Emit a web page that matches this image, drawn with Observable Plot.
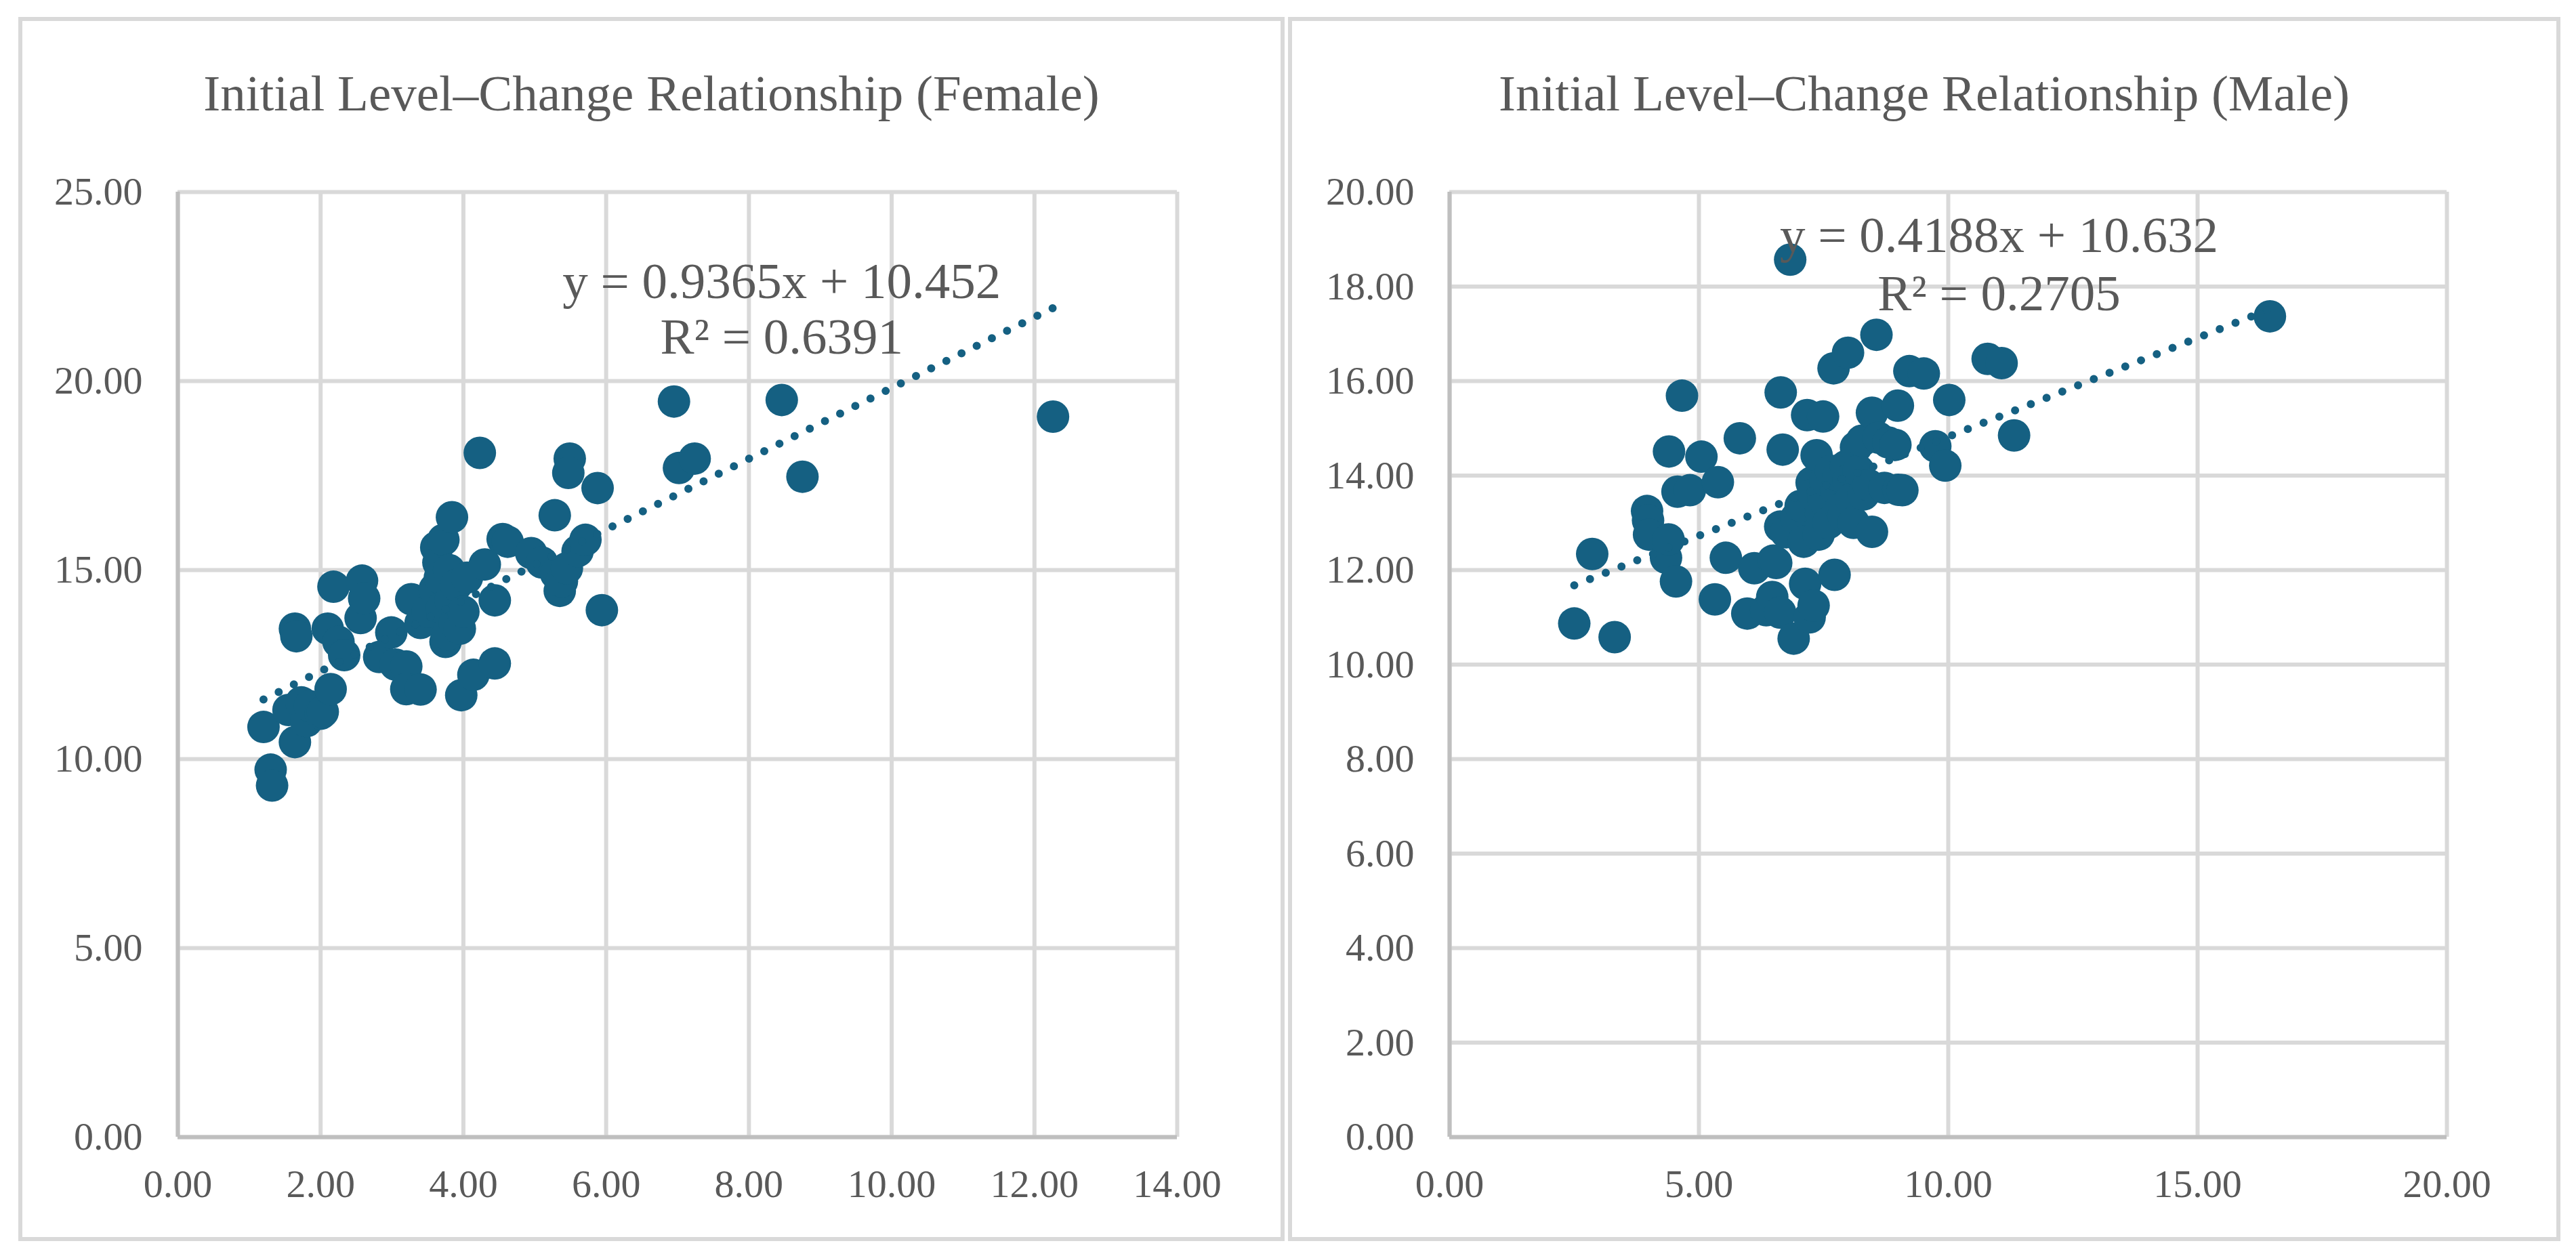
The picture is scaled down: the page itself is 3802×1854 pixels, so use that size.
<!DOCTYPE html>
<html>
<head>
<meta charset="utf-8">
<script src="https://cdn.jsdelivr.net/npm/d3@7"></script>
<script src="https://cdn.jsdelivr.net/npm/@observablehq/plot@0.6"></script>
<style>
html, body { margin: 0; padding: 0; background: #ffffff; }
body { width: 3802px; height: 1854px; position: relative; overflow: hidden; font-family: "Liberation Serif", "Times New Roman", serif; }
.panel { position: absolute; top: 25px; height: 1795px; border: 6px solid #D9D9D9; box-sizing: content-box; background: #fff; }
.panel svg { position: absolute; left: 0; top: 0; }
.title { position: absolute; left: 0; right: 0; top: 69px; text-align: center; font-size: 75px; line-height: 75px; color: #595959; white-space: nowrap; font-family: "Liberation Serif", "Times New Roman", serif; }
</style>
</head>
<body>
<div class="panel" id="female" style="left:27px;width:1857px;"></div>
<div class="panel" id="male" style="left:1901px;width:1866px;"></div>
<script>
// ---------- Data ----------
const femaleTitle = "Initial Level\u2013Change Relationship (Female)";
const maleTitle = "Initial Level\u2013Change Relationship (Male)";

const femaleX = [1.2, 1.3, 1.32, 1.55, 1.64, 1.66, 1.64, 1.73, 1.8, 1.85, 2.0, 2.03, 2.1, 2.14, 2.18, 2.25, 2.33, 2.56, 2.58, 2.61,
  2.82, 2.99, 3.05, 3.2, 3.2, 3.27, 3.4, 3.4, 3.5, 3.6, 3.62, 3.65, 3.67, 3.7, 3.72, 3.75, 3.78, 3.8, 3.82, 3.84,
  3.88, 3.9, 3.95, 3.97, 4.0, 4.05, 4.14, 4.23, 4.3, 4.44, 4.44, 4.55, 4.62, 4.95, 5.1, 5.28, 5.3, 5.35, 5.38, 5.45,
  5.49, 5.47, 5.6, 5.71, 5.88, 5.94, 6.95, 7.02, 7.24, 8.46, 8.75, 12.26];
const femaleY = [10.85, 9.72, 9.3, 11.3, 13.45, 13.25, 10.45, 11.5, 11.0, 11.4, 11.2, 11.25, 13.45, 11.85, 14.56, 13.1, 12.75, 13.73, 14.72, 14.25,
  12.7, 13.35, 12.5, 12.45, 11.85, 14.23, 11.84, 13.6, 13.9, 14.5, 15.6, 15.2, 14.8, 14.0, 15.8, 13.1, 13.3, 15.0, 14.2, 16.4,
  13.6, 14.6, 13.45, 11.69, 13.9, 14.8, 12.23, 18.1, 15.15, 14.2, 12.53, 15.82, 15.75, 15.45, 15.2, 16.45, 14.9, 14.45, 14.7, 15.05,
  17.95, 17.57, 15.5, 15.8, 17.17, 13.94, 19.46, 17.7, 17.95, 19.5, 17.47, 19.06];

const maleX = [2.5, 2.86, 3.31, 3.96, 3.98, 4.0, 4.34, 4.39, 4.40, 4.54, 4.57, 4.66, 4.82, 5.05, 5.32, 5.38, 5.54, 5.82, 5.97, 6.11,
  6.35, 6.47, 6.49, 6.55, 6.63, 6.63, 6.64, 6.68, 6.75, 6.83, 6.9, 6.95, 7.04, 7.1, 7.13, 7.17, 7.22, 7.26, 7.3, 7.3,
  7.36, 7.4, 7.45, 7.49, 7.5, 7.54, 7.6, 7.65, 7.7, 7.72, 7.75, 7.8, 7.85, 7.9, 7.95, 7.99, 8.0, 8.05, 8.1, 8.15,
  8.2, 8.27, 8.3, 8.4, 8.47, 8.47, 8.56, 8.6, 8.72, 8.8, 8.94, 8.99, 9.0, 9.08, 9.22, 9.51, 9.74, 9.94, 10.02, 10.79,
  11.07, 11.32, 16.45];
const maleY = [10.87, 12.34, 10.58, 13.25, 13.05, 12.75, 12.26, 12.65, 14.51, 11.76, 13.66, 15.69, 13.69, 14.4, 11.38, 13.86, 12.26, 14.79, 11.08, 12.04,
  11.15, 11.43, 12.2, 12.15, 11.1, 12.92, 15.76, 14.55, 12.8, 18.57, 10.55, 13.1, 13.36, 12.6, 11.71, 15.28, 11.0, 13.85, 11.25, 13.6,
  14.43, 12.75, 13.2, 15.25, 13.5, 13.9, 13.0, 14.1, 16.27, 11.9, 13.7, 14.0, 13.3, 13.15, 14.2, 16.6, 13.9, 13.5, 13.0, 14.6,
  14.1, 14.74, 13.6, 13.8, 12.81, 15.33, 16.98, 14.8, 13.74, 14.7, 14.65, 15.48, 13.7, 13.69, 16.21, 16.16, 14.62, 14.21, 15.6, 16.47,
  16.38, 14.85, 17.37];

// Trendline coefficients (as printed on the chart)
const femaleSlope = 0.9365, femaleIntercept = 10.452;
const maleSlope = 0.4188, maleIntercept = 10.632;
const femaleEquation = ["y = 0.9365x + 10.452", "R\u00b2 = 0.6391"];
const maleEquation = ["y = 0.4188x + 10.632", "R\u00b2 = 0.2705"];

// Axis ticks
const femaleXTicks = [0, 2, 4, 6, 8, 10, 12, 14];
const femaleYTicks = [0, 5, 10, 15, 20, 25];
const maleXTicks = [0, 5, 10, 15, 20];
const maleYTicks = [0, 2, 4, 6, 8, 10, 12, 14, 16, 18, 20];

// Label anchor positions in data units
const femaleLabelPos = {x: 8.46, y: [22.63, 21.15]};
const maleLabelPos = {x: 11.02, y: [19.07, 17.84]};

// ---------- Styles ----------
const DOT = "#156082";
const GRID = "#D9D9D9";
const AXIS = "#BFBFBF";
const TEXT = "#595959";
const FONT = "Liberation Serif, Times New Roman, serif";

function makeChart(cfg) {
  const pts = cfg.xs.map((x, i) => ({x, y: cfg.ys[i]}));
  const [x0, x1] = d3.extent(cfg.xs);
  const trend = [x0, x1].map(x => ({x, y: cfg.slope * x + cfg.intercept}));
  const labels = cfg.eq.map((t, i) => ({text: t, x: cfg.labelPos.x, y: cfg.labelPos.y[i]}));
  return Plot.plot({
    width: cfg.width,
    height: 1795,
    marginLeft: cfg.marginLeft,
    marginRight: cfg.marginRight,
    marginTop: 252,
    marginBottom: 148,
    style: {fontFamily: FONT, background: "transparent", overflow: "visible"},
    x: {domain: cfg.xDomain, label: null},
    y: {domain: cfg.yDomain, label: null},
    marks: [
      Plot.gridX(cfg.xTicks, {stroke: GRID, strokeWidth: 6, strokeOpacity: 1}),
      Plot.gridY(cfg.yTicks, {stroke: GRID, strokeWidth: 6, strokeOpacity: 1}),
      Plot.ruleX([0], {stroke: AXIS, strokeWidth: 6}),
      Plot.ruleY([0], {stroke: AXIS, strokeWidth: 6}),
      Plot.axisX({ticks: cfg.xTicks, tickSize: 0, tickPadding: 47, tickFormat: d => d.toFixed(2), fontSize: 58, color: TEXT, label: null}),
      Plot.axisY({ticks: cfg.yTicks, tickSize: 0, tickPadding: 52, tickFormat: d => d.toFixed(2), fontSize: 58, color: TEXT, label: null}),
      Plot.dot(pts, {x: "x", y: "y", r: 24, fill: DOT, stroke: null}),
      Plot.line(trend, {x: "x", y: "y", stroke: DOT, strokeWidth: 12, strokeDasharray: "0 25", strokeLinecap: "round"}),
      Plot.text(labels, {x: "x", y: "y", text: "text", fontSize: 75, fill: TEXT, textAnchor: "middle"})
    ]
  });
}

function mount(id, title, chart) {
  const el = document.getElementById(id);
  const t = document.createElement("div");
  t.className = "title";
  t.textContent = title;
  el.appendChild(chart);
  el.appendChild(t);
}

mount("female", femaleTitle, makeChart({
  width: 1857, marginLeft: 229, marginRight: 153,
  xs: femaleX, ys: femaleY, slope: femaleSlope, intercept: femaleIntercept,
  eq: femaleEquation, labelPos: femaleLabelPos,
  xDomain: [0, 14], yDomain: [0, 25], xTicks: femaleXTicks, yTicks: femaleYTicks
}));

mount("male", maleTitle, makeChart({
  width: 1866, marginLeft: 232, marginRight: 162,
  xs: maleX, ys: maleY, slope: maleSlope, intercept: maleIntercept,
  eq: maleEquation, labelPos: maleLabelPos,
  xDomain: [0, 20], yDomain: [0, 20], xTicks: maleXTicks, yTicks: maleYTicks
}));
</script>
</body>
</html>
